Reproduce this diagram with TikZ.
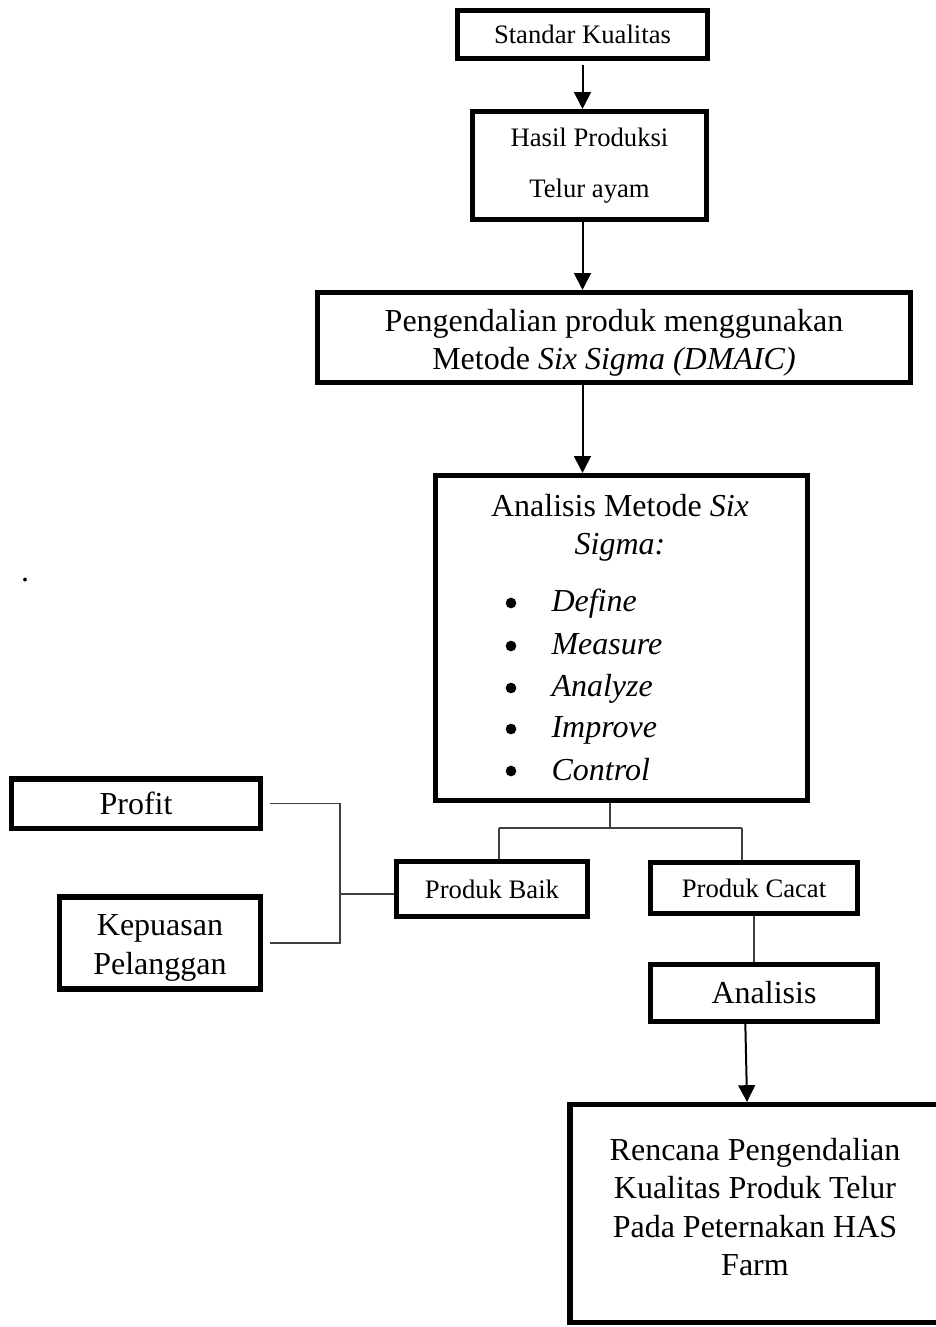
\documentclass[tikz,border=0pt]{standalone}
\usepackage{fontspec}
\setmainfont{Liberation Serif}
\usetikzlibrary{arrows.meta}
\begin{document}
\begin{tikzpicture}
    [
    x=0.375pt, y=-0.375pt,
    box/.style={draw, line width=1.9pt, rectangle, inner sep=0pt, align=center},
    small/.style={font=\fontsize{10}{19.1}\selectfont},
    big/.style={font=\fontsize{12}{14.3}\selectfont},
    words/.style={align=center, inner sep=0pt},
    link/.style={draw=black!75, line width=0.55pt},
    flow/.style={line width=0.75pt, -{Triangle[width=6.3pt,length=6.3pt]}},
    item/.style={font=\fontsize{12}{14}\selectfont\itshape, anchor=west, text height=8.5pt, text depth=2.5pt, inner sep=0pt},
    bullet/.style={circle, fill=black, inner sep=0pt, minimum size=4pt},
    dot/.style={font=\fontsize{12}{14}\selectfont, inner sep=0pt}
    ]
    \useasboundingbox (0,0) rectangle (936,1327);
    \clip (0,0) rectangle (936,1327);
    \node (std) at (582.5,34.5) [box, small, minimum width=93.75pt, minimum height=18pt] {Standar Kualitas};
    \node (hasil) at (589.5,165.5) [box, small, minimum width=87.75pt, minimum height=40.5pt] {Hasil Produksi\\Telur ayam};
    \node (peng) at (614,337.5) [box, minimum width=222.4pt, minimum height=33.75pt] {};
    \node (pengtext) at (614,343) [big, words] {Pengendalian produk menggunakan\\Metode \textit{Six Sigma (DMAIC)}};
    \node (anl) at (621.5,638) [box, minimum width=139.5pt, minimum height=121.9pt] {};
    \node (anltitle) at (620,528) [big, words] {Analisis Metode \textit{Six}\\\textit{Sigma:}};
    \node (b1) at (511,603) [bullet] {};
    \node (b2) at (511,646) [bullet] {};
    \node (b3) at (511,688) [bullet] {};
    \node (b4) at (511,729) [bullet] {};
    \node (b5) at (511,771) [bullet] {};
    \node (i1) at (551,603) [item] {Define};
    \node (i2) at (551,646) [item] {Measure};
    \node (i3) at (551,688) [item] {Analyze};
    \node (i4) at (551,729) [item] {Improve};
    \node (i5) at (551,772) [item] {Control};
    \node (baik) at (492,889) [box, small, minimum width=71.6pt, minimum height=20.6pt] {Produk Baik};
    \node (cacat) at (754,888) [box, small, minimum width=77.6pt, minimum height=19.1pt] {Produk Cacat};
    \node (profit) at (136,803.5) [box, big, minimum width=93.4pt, minimum height=18.4pt] {Profit};
    \node (kep) at (160,943) [box, minimum width=75.4pt, minimum height=34.5pt] {};
    \node (keptext) at (160,948) [big, words] {Kepuasan\\Pelanggan};
    \node (ana) at (764,993) [box, big, minimum width=85.1pt, minimum height=21.4pt] {Analisis};
    \node (ren) at (770,1213.5) [box, minimum width=150pt, minimum height=81.75pt] {};
    \node (rentext) at (755,1207) [big, words] {Rencana Pengendalian\\Kualitas Produk Telur\\Pada Peternakan HAS\\Farm};
    \node (stray) at (25,580) [dot] {.};
    \coordinate (fork) at (610,828);
    \coordinate (fl) at (499,828);
    \coordinate (fr) at (742,828);
    \coordinate (bus) at (340,894);
    \draw [flow] ([yshift=-1.5pt]std.south -| std) -- (hasil.north -| std);
    \draw [flow] (hasil.south -| std) -- (peng.north -| std);
    \draw [flow] (peng.south -| std) -- (anl.north -| std);
    \draw [link] (anl.south -| fork) -- (fork);
    \draw [link] (fl) -- (fr);
    \draw [link] (fl) -- (fl |- baik.north);
    \draw [link] (fr) -- (fr |- cacat.north);
    \draw [link] ([xshift=2.5pt]profit.east) -| (bus |- kep.east) -- ([xshift=2.5pt]kep.east);
    \draw [link] (bus) -- (bus -| baik.west);
    \draw [link] (cacat.south) -- (cacat.south |- ana.north);
    \draw [flow] ([xshift=-7pt]ana.south) -- ([xshift=-8.6pt]ren.north);
  \end{tikzpicture}
\end{document}
